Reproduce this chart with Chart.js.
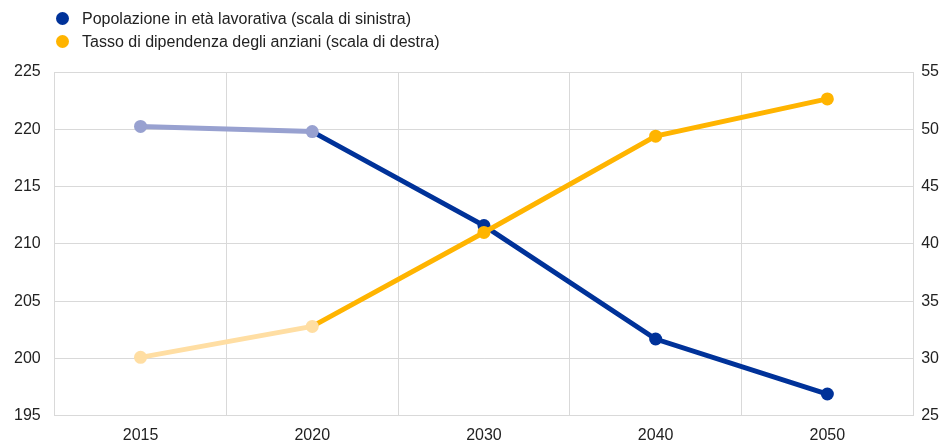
<!DOCTYPE html>
<html><head><meta charset="utf-8">
<script src="https://cdn.jsdelivr.net/npm/chart.js@4/dist/chart.umd.min.js"></script>
<style>
html,body{margin:0;padding:0;background:#fff;}
#wrap{position:relative;width:947px;height:441px;}
#legend{position:absolute;left:56px;top:7px;font-family:"Liberation Sans",Arial,sans-serif;font-size:16px;color:#222;}
.li{display:flex;align-items:center;height:23px;}
.dot{width:13px;height:13px;border-radius:50%;margin-right:13px;}
canvas{display:block;}
</style></head>
<body><div id="wrap"><canvas id="c" width="947" height="441"></canvas><div id="legend"></div></div>
<script>
const categories = ["2015","2020","2030","2040","2050"];
const workingAge = [220.25, 219.8, 211.6, 201.7, 196.9];
const dependency = [30.1, 32.8, 41.0, 49.4, 52.65];
const seriesLabels = ["Popolazione in età lavorativa (scala di sinistra)", "Tasso di dipendenza degli anziani (scala di destra)"];
const leftTicks = [195, 225, 5];
const rightTicks = [25, 55, 5];

const BLUE = "#003299", BLUE_L = "#98A1D0", YEL = "#FFB400", YEL_L = "#FFDEA3";
const FONT = {family: "'Liberation Sans', Arial, sans-serif", size: 16};

const lg = document.getElementById('legend');
[[seriesLabels[0], BLUE],[seriesLabels[1], YEL]].forEach(([t,c])=>{
  const d=document.createElement('div');d.className='li';
  d.innerHTML='<span class="dot" style="background:'+c+'"></span><span>'+t+'</span>';
  lg.appendChild(d);
});

new Chart(document.getElementById('c'), {
  type: 'line',
  data: {
    labels: categories,
    datasets: [
      {label: seriesLabels[0], data: workingAge, yAxisID: 'y', order: 1,
       borderColor: BLUE, borderWidth: 5, pointRadius: 6.5, pointHoverRadius: 6.5,
       pointBackgroundColor: workingAge.map((v,i)=> i<2 ? BLUE_L : BLUE),
       pointBorderWidth: 0,
       segment: {borderColor: ctx => ctx.p0DataIndex === 0 ? BLUE_L : BLUE}},
      {label: seriesLabels[1], data: dependency, yAxisID: 'y1', order: 0,
       borderColor: YEL, borderWidth: 5, pointRadius: 6.5, pointHoverRadius: 6.5,
       pointBackgroundColor: dependency.map((v,i)=> i<2 ? YEL_L : YEL),
       pointBorderWidth: 0,
       segment: {borderColor: ctx => ctx.p0DataIndex === 0 ? YEL_L : YEL}}
    ]
  },
  options: {
    responsive: false, animation: false,
    layout: {autoPadding: false, padding: {top: 72, left: 0, right: 0, bottom: -14}},
    plugins: {legend: {display: false}, tooltip: {enabled: false}},
    scales: {
      x: {offset: true,
          grid: {offset: true, color: '#d9d9d9', drawTicks: false, lineWidth: 1},
          border: {display: true, color: '#d9d9d9'},
          ticks: {font: FONT, color: '#222', padding: 10}},
      y: {position: 'left', min: leftTicks[0], max: leftTicks[1],
          grid: {color: '#d9d9d9', drawTicks: false},
          border: {display: true, color: '#d9d9d9'},
          ticks: {stepSize: leftTicks[2], font: FONT, color: '#222', padding: 14}},
      y1: {position: 'right', min: rightTicks[0], max: rightTicks[1],
          grid: {drawOnChartArea: false, drawTicks: false},
          border: {display: true, color: '#d9d9d9'},
          ticks: {stepSize: rightTicks[2], font: FONT, color: '#222', padding: 8}}
    }
  }
});
</script></body></html>
